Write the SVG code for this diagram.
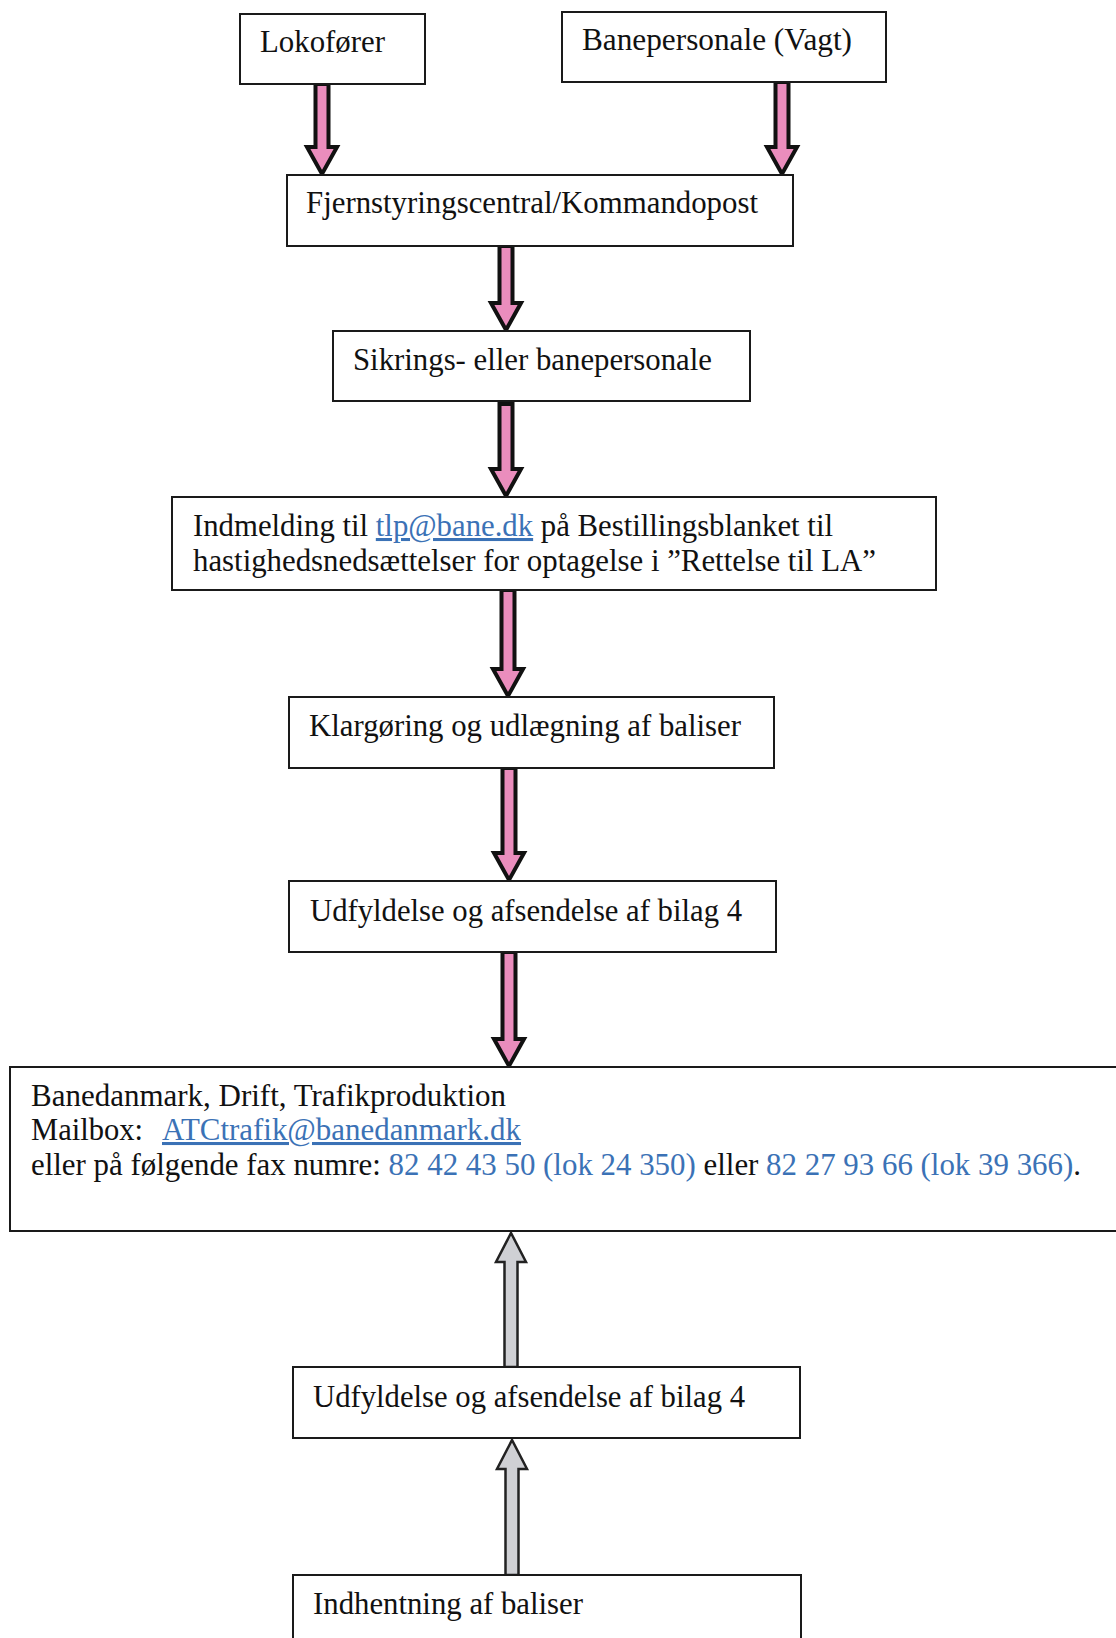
<svg xmlns="http://www.w3.org/2000/svg" width="1116" height="1638" viewBox="0 0 1116 1638">
<style>
.box{fill:#fff;stroke:#1a1a1a;stroke-width:2}
.t{font-family:"Liberation Serif","Times New Roman",serif;font-size:30.5px;fill:#111}
.lnk{fill:#3b72b6;text-decoration:underline}
.blue{fill:#3b72b6}
.pa{fill:#ea8dbd;stroke:#111;stroke-width:4;stroke-linejoin:miter}
.ga{fill:#cfd0d4;stroke:#222;stroke-width:2.5;stroke-linejoin:miter}
</style>
<rect width="1116" height="1638" fill="#fff"/>
<g id="connectors">
<path class="pa" d="M315.5,84 L328.5,84 L328.5,147 L337,147 L322,174 L307,147 L315.5,147 Z"/>
<path class="pa" d="M775.5,82 L788.5,82 L788.5,147 L797,147 L782,174 L767,147 L775.5,147 Z"/>
<path class="pa" d="M499.5,246 L512.5,246 L512.5,303 L521,303 L506,330 L491,303 L499.5,303 Z"/>
<path class="pa" d="M499.5,404 L512.5,404 L512.5,469 L521,469 L506,496 L491,469 L499.5,469 Z"/>
<path class="pa" d="M501.5,590 L514.5,590 L514.5,669 L523,669 L508,696 L493,669 L501.5,669 Z"/>
<path class="pa" d="M502.5,768 L515.5,768 L515.5,853 L524,853 L509,880 L494,853 L502.5,853 Z"/>
<path class="pa" d="M502.5,952 L515.5,952 L515.5,1039 L524,1039 L509,1066 L494,1039 L502.5,1039 Z"/>
<path class="ga" d="M504.5,1367 L517.5,1367 L517.5,1262 L526,1262 L511,1233 L496,1262 L504.5,1262 Z"/>
<path class="ga" d="M505.5,1575 L518.5,1575 L518.5,1469 L527,1469 L512,1440 L497,1469 L505.5,1469 Z"/>
</g>
<g id="lokoforer"><rect class="box" x="240" y="14" width="185" height="70"/><text class="t" x="260" y="52" textLength="125" lengthAdjust="spacingAndGlyphs">Lokofører</text></g>
<g id="banepersonale"><rect class="box" x="562" y="12" width="324" height="70"/><text class="t" x="582" y="50" textLength="270" lengthAdjust="spacingAndGlyphs">Banepersonale (Vagt)</text></g>
<g id="fjernstyring"><rect class="box" x="287" y="175" width="506" height="71"/><text class="t" x="306" y="213" textLength="452" lengthAdjust="spacingAndGlyphs">Fjernstyringscentral/Kommandopost</text></g>
<g id="sikrings"><rect class="box" x="333" y="331" width="417" height="70"/><text class="t" x="353" y="370" textLength="359" lengthAdjust="spacingAndGlyphs">Sikrings- eller banepersonale</text></g>
<g id="indmelding"><rect class="box" x="172" y="497" width="764" height="93"/>
<text class="t" x="193" y="536" textLength="640" lengthAdjust="spacingAndGlyphs">Indmelding til <tspan class="lnk">tlp@bane.dk</tspan> på Bestillingsblanket til</text>
<text class="t" x="193" y="571" textLength="683" lengthAdjust="spacingAndGlyphs">hastighedsnedsættelser for optagelse i ”Rettelse til LA”</text></g>
<g id="klargoring"><rect class="box" x="289" y="697" width="485" height="71"/><text class="t" x="309" y="736" textLength="432" lengthAdjust="spacingAndGlyphs">Klargøring og udlægning af baliser</text></g>
<g id="udfyldelse1"><rect class="box" x="289" y="881" width="487" height="71"/><text class="t" x="310" y="921" textLength="432" lengthAdjust="spacingAndGlyphs">Udfyldelse og afsendelse af bilag 4</text></g>
<g id="banedanmark"><rect class="box" x="10" y="1067" width="1130" height="164"/>
<text class="t" x="31" y="1106" textLength="475" lengthAdjust="spacingAndGlyphs">Banedanmark, Drift, Trafikproduktion</text>
<text class="t" x="31" y="1140" textLength="112" lengthAdjust="spacingAndGlyphs">Mailbox:</text>
<text class="t lnk" x="162" y="1140" textLength="359" lengthAdjust="spacingAndGlyphs">ATCtrafik@banedanmark.dk</text>
<text class="t" x="31" y="1175" textLength="1050" lengthAdjust="spacingAndGlyphs">eller på følgende fax numre: <tspan class="blue">82 42 43 50 (lok 24 350)</tspan> eller <tspan class="blue">82 27 93 66 (lok 39 366)</tspan>.</text></g>
<g id="udfyldelse2"><rect class="box" x="293" y="1367" width="507" height="71"/><text class="t" x="313" y="1407" textLength="432" lengthAdjust="spacingAndGlyphs">Udfyldelse og afsendelse af bilag 4</text></g>
<g id="indhentning"><rect class="box" x="293" y="1575" width="508" height="90"/><text class="t" x="313" y="1614" textLength="270" lengthAdjust="spacingAndGlyphs">Indhentning af baliser</text></g>
</svg>
